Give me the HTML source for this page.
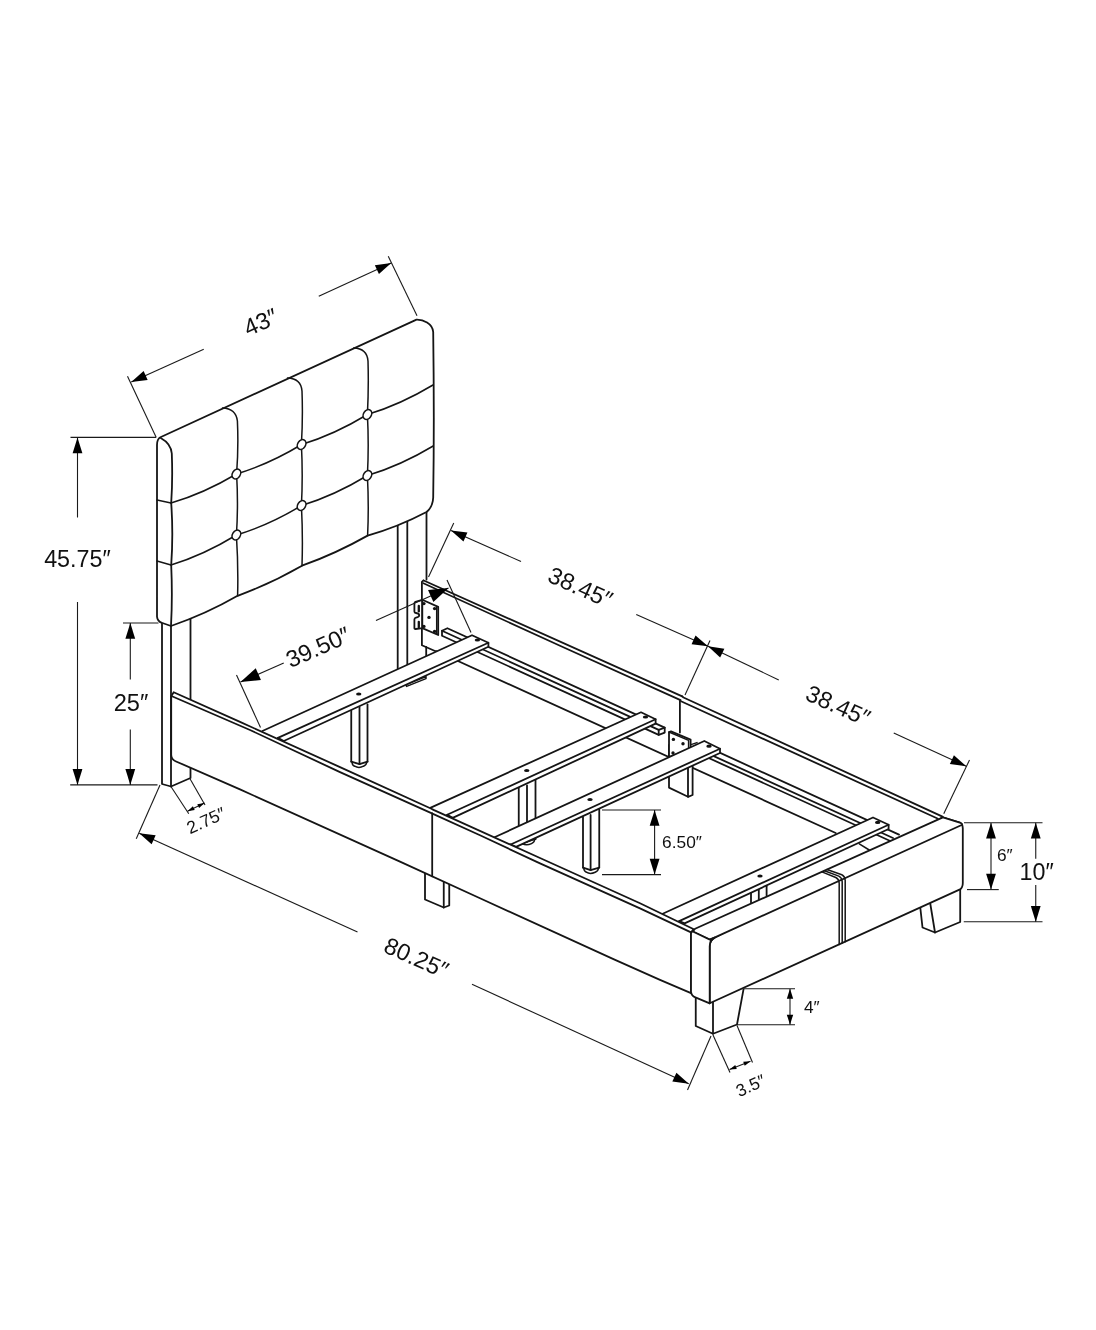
<!DOCTYPE html>
<html lang="en"><head><meta charset="utf-8"><title>Bed dimensions</title>
<style>
html,body{margin:0;padding:0;background:#fff;}
body{width:1096px;height:1330px;overflow:hidden;}
svg{display:block;will-change:transform;}
.o{stroke:#151515;stroke-width:1.8;fill:none;stroke-linecap:round;stroke-linejoin:round;}
.w{stroke:#151515;stroke-width:1.8;fill:#fff;stroke-linecap:round;stroke-linejoin:round;}
.t{stroke:#151515;stroke-width:1.5;fill:none;stroke-linecap:round;stroke-linejoin:round;}
.d{stroke:#1a1a1a;stroke-width:1.1;fill:none;}
.a{fill:#000;stroke:none;}
.h{fill:#111;stroke:none;}
text{font-family:"Liberation Sans",sans-serif;fill:#111;}
</style></head><body>
<svg width="1096" height="1330" viewBox="0 0 1096 1330">
<rect width="1096" height="1330" fill="#fff"/>
<path class="o" d="M397.70,515.00 L397.70,668.60"/>
<path class="o" d="M407.30,515.00 L407.30,664.50"/>
<path class="o" d="M426.50,505.00 L426.50,579.50"/>
<path class="o" d="M426.20,647.00 L426.20,656.00"/>
<path class="w" d="M162.00,620.00 L162.00,784.00 L171.00,786.50 L190.50,778.00 L190.50,615.00"/>
<path class="o" d="M171.00,620.00 L171.00,786.50"/>
<path class="o" d="M423.40,580.40 L421.90,581.80 L421.90,645.20 L435.00,651.00"/>
<path class="o" d="M423.75,580.50 L682.20,696.39"/>
<path class="o" d="M423.40,583.20 L560.00,645.79 L680.50,700.13"/>
<path class="o" d="M682.20,696.39 L683.50,697.50 L942.50,816.60"/>
<path class="o" d="M681.00,701.25 L937.50,818.49"/>
<path class="o" d="M679.90,700.50 L679.90,732.60"/>
<path class="o" d="M436.00,651.00 L835.70,833.00"/>
<path class="w" d="M442.00,630.80 L447.40,628.25 L664.70,727.56 L664.70,732.56 L658.70,734.83 L442.00,635.80 L442.00,630.80"/>
<path class="o" d="M442.00,630.80 L658.70,729.83 L664.70,727.56"/>
<path class="o" d="M658.70,729.83 L658.70,734.83"/>
<path class="o" d="M700.00,743.69 L899.00,834.63"/>
<path class="o" d="M694.00,747.09 L893.00,838.03"/>
<path class="o" d="M694.00,751.29 L893.00,842.23"/>
<path class="w" d="M422.3,599.8 L415.4,601.8 Q414.4,602.2 414.4,603.4 L414.4,611.4 Q414.4,612.8 416,613 Q419.2,613.4 419.2,615.2 Q419.2,617 416,617.6 Q414.4,618 414.4,619.4 L414.4,628 Q414.4,629.2 415.6,629 L422.3,628.2 Z"/>
<path class="w" d="M422.3,599.8 L438.2,606.9 L438.2,635 L422.3,628.2 Z"/>
<path class="t" d="M436.7,606.4 L436.7,634.2"/>
<path d="M418.8,606 L418.8,611.4 M418.8,621.8 L418.8,627.2" stroke="#111" stroke-width="2.3" stroke-linecap="round" fill="none"/>
<circle class="h" cx="423.9" cy="603.6" r="1.7"/>
<circle class="h" cx="434.6" cy="608.6" r="1.7"/>
<circle class="h" cx="434.6" cy="631.4" r="1.7"/>
<circle class="h" cx="423.9" cy="626.4" r="1.7"/>
<circle class="h" cx="429" cy="617.4" r="1.7"/>
<path class="t" d="M406,684.6 L426,676.6 L426,678.6 L406.6,686.4 Z"/>
<path class="o" d="M351.25,708.80 L351.25,761.60"/>
<path class="o" d="M359.50,706.80 L359.50,764.20"/>
<path class="o" d="M367.50,704.50 L367.50,761.60"/>
<path class="o" d="M351.25,761.60 L359.50,764.20 L367.50,761.60"/>
<path class="t" d="M352.15,762.20 Q351.85,765.00 354.65,766.20 Q358.90,768.60 363.50,766.20 Q366.60,764.80 366.60,762.20"/>
<path class="o" d="M518.75,787.50 L518.75,839.00"/>
<path class="o" d="M527.00,785.50 L527.00,841.60"/>
<path class="o" d="M535.50,780.00 L535.50,839.00"/>
<path class="o" d="M518.75,839.00 L527.00,841.60 L535.50,839.00"/>
<path class="t" d="M519.65,839.60 Q519.35,842.40 522.15,843.60 Q526.40,846.00 531.50,843.60 Q534.60,842.20 534.60,839.60"/>
<path class="o" d="M583.00,817.00 L583.00,867.60"/>
<path class="o" d="M590.60,815.00 L590.60,870.20"/>
<path class="o" d="M599.25,809.50 L599.25,867.60"/>
<path class="o" d="M583.00,867.60 L590.60,870.20 L599.25,867.60"/>
<path class="t" d="M583.90,868.20 Q583.60,871.00 586.40,872.20 Q590.00,874.60 595.25,872.20 Q598.35,870.80 598.35,868.20"/>
<path class="w" d="M669.00,745.00 L669.00,787.60 L688.00,796.80 L692.60,795.00 L692.60,760.00"/>
<path class="o" d="M688.00,760.00 L688.00,796.80"/>
<path class="w" d="M669,732 L671,731.4 L690.6,739.6 L690.6,749 L669,757 Z"/>
<path class="t" d="M669,732 L688.6,740.4 L688.6,749.6"/>
<circle class="h" cx="673.4" cy="739.4" r="1.7"/>
<circle class="h" cx="683" cy="743.8" r="1.7"/>
<circle class="h" cx="673" cy="753" r="1.7"/>
<path class="t" d="M691,744.6 L697,742.6"/>
<path class="w" d="M262.40,731.00 L472.00,635.20 L488.40,642.80 L488.40,646.70 L283.80,741.00 L277.90,737.90"/>
<path class="o" d="M277.90,737.90 L488.40,642.80"/>
<ellipse class="h" cx="358.75" cy="694" rx="2.7" ry="1.6"/>
<ellipse class="h" cx="477.4" cy="640" rx="2.7" ry="1.6"/>
<path class="w" d="M430.80,807.60 L641.00,712.30 L655.60,719.20 L655.60,723.60 L452.70,817.90 L447.20,814.80"/>
<path class="o" d="M447.20,814.80 L655.60,719.20"/>
<ellipse class="h" cx="526.75" cy="770.5" rx="2.7" ry="1.6"/>
<ellipse class="h" cx="645.5" cy="717" rx="2.7" ry="1.6"/>
<path class="w" d="M494.50,837.30 L704.30,741.00 L720.00,748.80 L720.00,753.00 L516.10,846.90 L510.65,844.50"/>
<path class="o" d="M510.65,844.50 L720.00,748.80"/>
<ellipse class="h" cx="590" cy="799.5" rx="2.7" ry="1.6"/>
<ellipse class="h" cx="709" cy="746.2" rx="2.7" ry="1.6"/>
<path class="w" d="M662.70,913.70 L873.00,817.50 L888.60,824.80 L888.60,829.00 L684.60,923.40 L679.20,921.10"/>
<path class="o" d="M679.20,921.10 L888.60,824.80"/>
<ellipse class="h" cx="760" cy="876" rx="2.7" ry="1.6"/>
<ellipse class="h" cx="877.7" cy="822.4" rx="2.7" ry="1.6"/>
<path class="w" d="M920.00,905.00 L922.50,927.50 L935.00,932.50 L960.20,922.00 L960.20,888.00"/>
<path class="o" d="M930.00,902.00 L935.00,932.50"/>
<path class="w" d="M425.00,870.00 L425.00,899.50 L443.75,907.50 L449.25,905.50 L449.25,880.00"/>
<path class="o" d="M443.75,880.00 L443.75,907.50"/>
<path class="w" d="M695.75,990.00 L695.75,1026.00 L713.00,1033.75 L737.00,1024.50 L743.50,989.40"/>
<path class="o" d="M713.00,1000.00 L713.00,1033.75"/>
<path class="t" d="M859.3,843.8 L869.2,850"/>
<path class="o" d="M751.00,893.36 L751.00,902.56"/>
<path class="o" d="M758.80,889.86 L758.80,899.06"/>
<path class="o" d="M766.60,886.36 L766.60,895.56"/>
<path class="w" d="M709.70,946.40 Q709.70,940.20 715.00,937.40 L942.90,817.40 L959.80,822.70 Q962.60,823.80 962.80,828.30 L962.80,883.00 Q962.80,887.60 960.00,889.40 L709.70,1003.30 Z"/>
<path class="w" d="M695.10,928.70 L942.90,817.40 L959.80,822.70 Q962.40,823.60 962.20,824.70 L715.00,937.40 L709.70,939.70 L692.80,931.50 Z"/>
<path class="t" d="M821.90,871.90 L835.80,877.53 Q838.80,878.93 839.20,883.13 L839.20,944.38"/>
<path class="t" d="M824.45,870.70 L838.80,876.16 Q841.80,877.56 842.20,881.76 L842.20,943.01"/>
<path class="t" d="M827.00,869.50 L841.80,874.79 Q844.80,876.19 845.20,880.39 L845.20,941.65"/>
<path class="w" d="M173.70,692.30 L240.00,721.90 L340.00,767.10 L431.40,808.70 L433.50,809.90 L540.00,858.00 L640.00,903.30 L693.80,929.20 L691.00,932.40 L691.00,993.20 L660.00,979.80 L614.00,959.40 L480.00,898.20 L400.00,861.60 L240.00,789.40 L175.50,761.20 Q171.40,759.40 171.20,755.00 L171.20,696.40 Z"/>
<path class="o" d="M171.40,696.00 L250.00,730.00 L340.00,772.10 L431.90,813.40"/>
<path class="o" d="M432.40,813.60 L480.00,835.30 L540.00,863.40 L640.00,908.40 L691.00,932.40"/>
<path class="o" d="M432.20,813.40 L432.20,876.33"/>
<path class="w" d="M691.00,933.60 Q691.20,932.00 692.80,931.50 L709.90,939.60 L714.60,937.60 Q709.70,940.20 709.70,946.40 L709.70,1003.30 L695.40,997.40 Q691.40,995.80 691.00,991.80 Z"/>
<path class="w" d="M157,445 Q157,439 160.4,437.2 L416.5,319.6 C423,319.4 432.6,323.4 433.2,332 Q434.4,420 433.2,497.5 Q432.8,507 426.5,512 Q398,527 367.6,535.6 Q336,553.5 302,565.7 Q271,583.5 237.6,595.8 Q206,614 171,626 L162.4,623 Q157.4,621.6 157,616.6 Z"/>
<path class="o" d="M161.1,438.3 C166,441 171,445.5 171.8,453.5 Q172.8,480 171.2,503 Q173.4,534 171.2,565 Q172.6,597 171,626"/>
<path class="t" d="M157,500 L171,503 M157,561 L171,565"/>
<path class="t" d="M222.5,408 Q236,408.6 237.4,421 Q238.6,447 236.6,474 Q238.4,505 236.4,535 Q238.4,566 237.6,595.8"/>
<path class="t" d="M287.5,378 Q301,378.4 302,391 Q303,418 301.4,444.5 Q303,476 301.4,505.5 Q303,536 302,565.7"/>
<path class="t" d="M353.75,348 Q367,348.4 368,361 Q368.8,388 367.4,414.5 Q369,445 367.4,475.5 Q369,506 367.6,535.6"/>
<path class="t" d="M171.00,503.00 Q203.70,493.50 236.40,474.00"/>
<path class="t" d="M236.40,474.00 Q269.00,464.25 301.60,444.50"/>
<path class="t" d="M301.60,444.50 Q334.50,434.50 367.40,414.50"/>
<path class="t" d="M367.40,414.50 Q400.20,404.75 433.00,385.00"/>
<path class="t" d="M171.00,565.00 Q203.70,555.00 236.40,535.00"/>
<path class="t" d="M236.40,535.00 Q269.00,525.25 301.60,505.50"/>
<path class="t" d="M301.60,505.50 Q334.50,495.50 367.40,475.50"/>
<path class="t" d="M367.40,475.50 Q400.30,465.75 433.20,446.00"/>
<ellipse class="w" style="stroke-width:1.6" cx="236.4" cy="474" rx="3.9" ry="5.2" transform="rotate(32 236.4 474)"/>
<ellipse class="w" style="stroke-width:1.6" cx="301.6" cy="444.5" rx="3.9" ry="5.2" transform="rotate(32 301.6 444.5)"/>
<ellipse class="w" style="stroke-width:1.6" cx="367.4" cy="414.5" rx="3.9" ry="5.2" transform="rotate(32 367.4 414.5)"/>
<ellipse class="w" style="stroke-width:1.6" cx="236.4" cy="535" rx="3.9" ry="5.2" transform="rotate(32 236.4 535)"/>
<ellipse class="w" style="stroke-width:1.6" cx="301.6" cy="505.5" rx="3.9" ry="5.2" transform="rotate(32 301.6 505.5)"/>
<ellipse class="w" style="stroke-width:1.6" cx="367.4" cy="475.5" rx="3.9" ry="5.2" transform="rotate(32 367.4 475.5)"/>
<path class="d" d="M127.50,376.25 L156.25,437.50"/>
<path class="d" d="M388.25,256.25 L417.00,315.75"/>
<path class="d" d="M203.75,349.25 L131.25,382.00"/>
<polygon class="a" points="131.25,382.00 143.63,371.03 147.67,379.96"/>
<path class="d" d="M318.75,296.25 L391.25,263.00"/>
<polygon class="a" points="391.25,263.00 378.93,274.04 374.85,265.13"/>
<text x="264.00" y="329.50" font-size="23.6" text-anchor="middle" transform="rotate(-24.3 264.00 329.50)">43″</text>
<path class="d" d="M70.50,437.40 L156.00,437.40"/>
<path class="d" d="M70.20,784.90 L157.50,784.90"/>
<path class="d" d="M77.50,517.50 L77.50,437.40"/>
<polygon class="a" points="77.50,437.40 82.40,453.20 72.60,453.20"/>
<path class="d" d="M77.50,602.00 L77.50,784.90"/>
<polygon class="a" points="77.50,784.90 72.60,769.10 82.40,769.10"/>
<text x="77.40" y="567.40" font-size="23.3" text-anchor="middle">45.75″</text>
<path class="d" d="M123.00,623.00 L158.50,623.00"/>
<path class="d" d="M130.30,679.50 L130.30,623.00"/>
<polygon class="a" points="130.30,623.00 135.20,638.80 125.40,638.80"/>
<path class="d" d="M130.30,729.50 L130.30,784.90"/>
<polygon class="a" points="130.30,784.90 125.40,769.10 135.20,769.10"/>
<text x="131.00" y="710.50" font-size="23.6" text-anchor="middle">25″</text>
<path class="d" d="M236.50,675.00 L260.50,727.50"/>
<path class="d" d="M447.00,580.00 L471.00,632.50"/>
<path class="d" d="M283.75,663.00 L240.50,682.00"/>
<polygon class="a" points="240.50,682.00 255.74,668.21 260.97,680.11"/>
<path class="d" d="M376.00,620.50 L448.50,588.00"/>
<polygon class="a" points="448.50,588.00 433.36,601.91 428.05,590.05"/>
<text x="321.30" y="654.60" font-size="23.6" text-anchor="middle" transform="rotate(-24 321.30 654.60)">39.50″</text>
<path class="d" d="M453.75,523.00 L428.50,577.00"/>
<path class="d" d="M710.00,640.50 L685.00,695.00"/>
<path class="d" d="M969.50,760.00 L943.75,813.75"/>
<path class="d" d="M521.00,561.50 L451.00,530.50"/>
<polygon class="a" points="451.00,530.50 467.43,532.42 463.46,541.38"/>
<path class="d" d="M636.25,614.50 L708.00,646.25"/>
<polygon class="a" points="708.00,646.25 691.57,644.34 695.53,635.38"/>
<path class="d" d="M778.75,680.00 L708.00,646.25"/>
<polygon class="a" points="708.00,646.25 724.37,648.63 720.15,657.48"/>
<path class="d" d="M893.75,733.00 L966.25,766.25"/>
<polygon class="a" points="966.25,766.25 949.85,764.12 953.93,755.21"/>
<text x="577.00" y="594.70" font-size="23.6" text-anchor="middle" transform="rotate(24 577.00 594.70)">38.45″</text>
<text x="834.75" y="713.00" font-size="23.6" text-anchor="middle" transform="rotate(24 834.75 713.00)">38.45″</text>
<path class="d" d="M964.00,822.80 L1042.50,822.80"/>
<path class="d" d="M967.00,889.60 L998.75,889.60"/>
<path class="d" d="M991.00,823.00 L991.00,889.40"/>
<polygon class="a" points="991.00,822.80 995.90,838.60 986.10,838.60"/>
<polygon class="a" points="991.00,889.60 986.10,873.80 995.90,873.80"/>
<text x="1004.80" y="861.25" font-size="17.3" text-anchor="middle">6″</text>
<path class="d" d="M963.75,921.75 L1042.50,921.75"/>
<path class="d" d="M1035.75,858.75 L1035.75,822.80"/>
<polygon class="a" points="1035.75,822.80 1040.65,838.60 1030.85,838.60"/>
<path class="d" d="M1035.75,885.00 L1035.75,921.75"/>
<polygon class="a" points="1035.75,921.75 1030.85,905.95 1040.65,905.95"/>
<text x="1036.60" y="879.50" font-size="23.3" text-anchor="middle">10″</text>
<path class="d" d="M743.75,988.80 L795.00,988.80"/>
<path class="d" d="M737.00,1024.70 L795.00,1024.70"/>
<path class="d" d="M790.00,989.00 L790.00,1024.50"/>
<polygon class="a" points="790.00,988.80 793.20,998.80 786.80,998.80"/>
<polygon class="a" points="790.00,1024.70 786.80,1014.70 793.20,1014.70"/>
<text x="811.80" y="1013.00" font-size="17.3" text-anchor="middle">4″</text>
<path class="d" d="M713.00,1035.00 L730.00,1072.50"/>
<path class="d" d="M737.00,1025.50 L752.50,1062.50"/>
<path class="d" d="M729.50,1069.50 L750.50,1061.25"/>
<polygon class="a" points="729.50,1069.50 735.25,1064.99 736.78,1068.90"/>
<polygon class="a" points="750.50,1061.25 744.75,1065.76 743.22,1061.85"/>
<text x="753.00" y="1091.00" font-size="17.3" text-anchor="middle" transform="rotate(-24 753.00 1091.00)">3.5″</text>
<path class="d" d="M160.00,785.00 L136.25,838.75"/>
<path class="d" d="M711.00,1036.00 L687.50,1090.00"/>
<path class="d" d="M357.50,932.00 L139.25,833.25"/>
<polygon class="a" points="139.25,833.25 155.66,835.30 151.63,844.23"/>
<path class="d" d="M472.00,984.25 L688.75,1083.75"/>
<polygon class="a" points="688.75,1083.75 672.35,1081.61 676.43,1072.71"/>
<text x="413.00" y="965.20" font-size="23.6" text-anchor="middle" transform="rotate(24 413.00 965.20)">80.25″</text>
<path class="d" d="M171.25,787.00 L188.75,813.75"/>
<path class="d" d="M190.00,778.75 L205.00,805.00"/>
<path class="d" d="M187.50,811.25 L204.50,803.00"/>
<polygon class="a" points="187.50,811.25 192.88,806.30 194.71,810.08"/>
<polygon class="a" points="204.50,803.00 199.12,807.95 197.29,804.17"/>
<text x="208.50" y="826.00" font-size="17.5" text-anchor="middle" transform="rotate(-24 208.50 826.00)">2.75″</text>
<path class="d" d="M602.00,810.00 L661.00,810.00"/>
<path class="d" d="M602.00,874.60 L661.00,874.60"/>
<path class="d" d="M654.60,810.00 L654.60,874.60"/>
<polygon class="a" points="654.60,810.00 659.50,825.80 649.70,825.80"/>
<polygon class="a" points="654.60,874.60 649.70,858.80 659.50,858.80"/>
<text x="682.00" y="848.40" font-size="17.3" text-anchor="middle">6.50″</text>
</svg>
</body></html>
